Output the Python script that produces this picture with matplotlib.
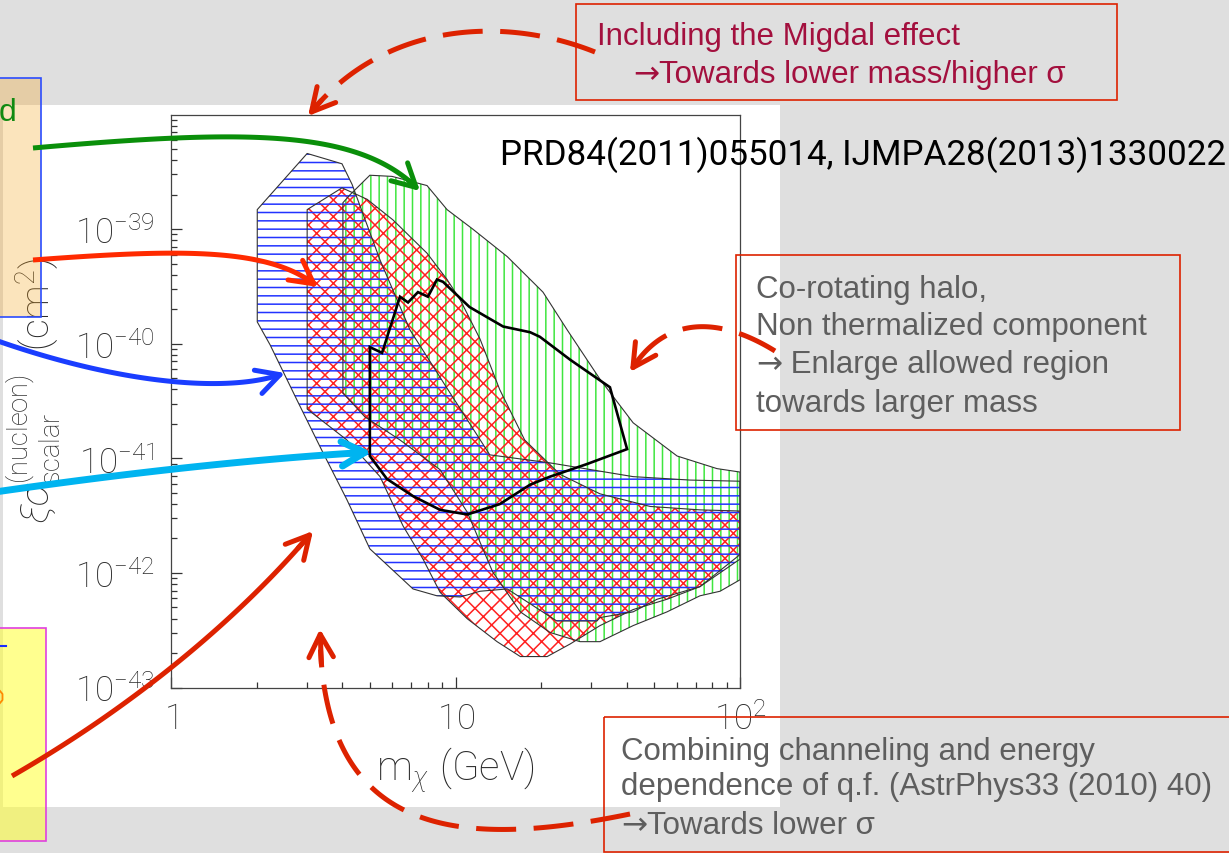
import numpy as np
import matplotlib

matplotlib.use("Agg")
import matplotlib.pyplot as plt
from matplotlib.patches import FancyArrowPatch, Polygon, Rectangle
from matplotlib.ticker import NullFormatter

# Allowed regions in the (m_chi, xi*sigma) plane: mass in GeV, log10(xi*sigma / cm^2)
green_mass = [4.02, 4.26, 5.00, 5.98, 7.94, 9.34, 11.5, 15.2, 20.3, 24.7, 32.2, 42.1,
              60.1, 83.0, 100, 100, 85.1, 72.3, 55.4, 42.1, 32.2, 27.4, 21.5, 16.9,
              13.5, 11.0, 8.83, 6.38, 4.81, 4.02]
green_logsig = [-38.77, -38.70, -38.53, -38.54, -38.62, -38.83, -39.00, -39.24, -39.55,
                -39.88, -40.31, -40.69, -40.98, -41.09, -41.12, -42.06, -42.16, -42.20,
                -42.34, -42.46, -42.60, -42.60, -42.52, -42.34, -41.99, -41.47, -41.10,
                -40.84, -40.64, -40.43]

red_mass = [3.01, 3.34, 3.99, 4.51, 4.89, 6.03, 7.94, 9.34, 10.4, 12.2, 14.3, 17.5,
            23.3, 32.2, 48.3, 72.3, 100, 100, 72.3, 55.4, 42.1, 32.2, 25.3, 21.0,
            16.9, 14.0, 11.0, 8.83, 7.69, 6.54, 5.43, 4.15, 3.01]
red_logsig = [-38.83, -38.76, -38.64, -38.70, -38.74, -38.92, -39.21, -39.44, -39.62,
              -39.96, -40.40, -40.84, -41.14, -41.31, -41.42, -41.45, -41.46, -41.84,
              -42.12, -42.23, -42.32, -42.46, -42.62, -42.73, -42.73, -42.60, -42.40,
              -42.17, -41.88, -41.59, -41.16, -40.84, -40.57]

blue_mass = [2.01, 3.01, 3.99, 4.33, 5.43, 6.92, 9.18, 13.2, 21.5, 42.1, 66.7, 100,
             100, 72.3, 51.1, 42.1, 32.2, 31.4, 22.7, 17.8, 15.2, 12.2, 10.4, 8.61,
             7.09, 5.00, 4.15, 3.42, 2.77, 2.23, 2.01]
blue_logsig = [-38.83, -38.34, -38.43, -38.61, -39.27, -39.88, -40.36, -40.97, -41.04,
               -41.16, -41.19, -41.20, -41.88, -42.12, -42.23, -42.34, -42.39, -42.42,
               -42.42, -42.25, -42.14, -42.16, -42.21, -42.20, -42.14, -41.79, -41.36,
               -40.95, -40.49, -40.01, -39.81]

# region including the channeling effect (solid black contour)
chan_mass = [5.00, 5.00, 5.52, 6.38, 6.81, 7.38, 8.00, 8.61, 9.04, 11.2, 14.7, 18.3,
             19.8, 25.3, 34.9, 40.1, 29.0, 21.5, 18.3, 14.3, 11.0, 8.83, 7.09, 5.74]
chan_logsig = [-40.98, -40.03, -40.08, -39.59, -39.64, -39.55, -39.59, -39.44, -39.46,
               -39.68, -39.85, -39.90, -39.94, -40.14, -40.38, -40.92, -41.05, -41.16,
               -41.23, -41.40, -41.49, -41.45, -41.33, -41.18]

x_ticks = [1, 10, 100]
x_ticklabels = [r"$1$", r"$10$", r"$10^{2}$"]
y_ticks = [1e-43, 1e-42, 1e-41, 1e-40, 1e-39]
y_ticklabels = [r"$10^{-43}$", r"$10^{-42}$", r"$10^{-41}$", r"$10^{-40}$", r"$10^{-39}$"]

plt.rcParams.update({
    "mathtext.fontset": "custom",
    "mathtext.rm": "Roboto:light",
    "mathtext.it": "Roboto:light:italic",
    "mathtext.bf": "Roboto:bold",
    "hatch.linewidth": 1.1,
})

W, H = 1229, 854
fig = plt.figure(figsize=(W / 100, H / 100), dpi=100, facecolor="#dfdfdf")

# white slide panel behind the plot
bg = fig.add_axes([0, 0, 1, 1], zorder=0)
bg.set_xlim(0, W)
bg.set_ylim(H, 0)
bg.axis("off")
bg.add_patch(Rectangle((3, 106), 777, 702, facecolor="white", edgecolor="none"))

ax = fig.add_axes([171 / W, 1 - 688.5 / H, 569 / W, 573 / H], zorder=1)
ax.set_facecolor("none")
ax.set_xscale("log")
ax.set_yscale("log")
ax.set_xlim(1, 100)
ax.set_ylim(1e-43, 1e-38)

regions = [
    (green_mass, green_logsig, "#3fe63f", "||"),
    (red_mass, red_logsig, "#ff2020", "xx"),
    (blue_mass, blue_logsig, "#2233ff", "--"),
]
for mass, logsig, color, hatch in regions:
    xy = np.column_stack([mass, np.power(10.0, logsig)])
    ax.add_patch(Polygon(xy, closed=True, fill=False, hatch=hatch,
                         edgecolor=color, lw=0))
for mass, logsig, _, _ in regions:
    xy = np.column_stack([mass, np.power(10.0, logsig)])
    ax.add_patch(Polygon(xy, closed=True, fill=False, edgecolor="#333333", lw=0.8))
ax.add_patch(Polygon(np.column_stack([chan_mass, np.power(10.0, chan_logsig)]),
                     closed=True, fill=False, edgecolor="black", lw=1.9))

ax.set_xticks(x_ticks, x_ticklabels)
ax.set_yticks(y_ticks, y_ticklabels)
ax.xaxis.set_minor_formatter(NullFormatter())
ax.yaxis.set_minor_formatter(NullFormatter())
ax.tick_params(which="both", direction="in", color="#333333", width=0.9,
               labelsize=25, labelcolor="#2a2a2a")
ax.tick_params(which="major", length=8, pad=12)
ax.tick_params(axis="x", which="major", pad=10)
ax.tick_params(which="minor", length=4)
for side in ax.spines.values():
    side.set_color("#444444")
    side.set_linewidth(0.9)

ax.set_xlabel(r"$\mathrm{m}_{\chi}\ \mathrm{(GeV)}$", fontsize=29, color="#2a2a2a")
ax.xaxis.set_label_coords(0.5, -0.1)
ax.set_ylabel(r"$\xi\sigma^{(\mathrm{nucleon})}_{\mathrm{scalar}}\ \ (\mathrm{cm}^{2})$",
              fontsize=28, color="#2a2a2a")
ax.yaxis.set_label_coords(-0.19, 0.52)

# annotation layer, in pixel coordinates
ov = fig.add_axes([0, 0, 1, 1], zorder=3)
ov.set_xlim(0, W)
ov.set_ylim(H, 0)
ov.axis("off")


def bezier(p0, p1, p2, p3, n=120):
    t = np.linspace(0, 1, n)[:, None]
    p0, p1, p2, p3 = (np.asarray(p, dtype=float) for p in (p0, p1, p2, p3))
    return ((1 - t) ** 3) * p0 + 3 * ((1 - t) ** 2) * t * p1 \
        + 3 * (1 - t) * t ** 2 * p2 + t ** 3 * p3


def curved_arrow(ctrl, color, lw, dashed=False):
    c = bezier(*ctrl)
    ls = (0, (8, 3.5)) if dashed else "-"
    ov.plot(c[:-4, 0], c[:-4, 1], color=color, lw=lw, ls=ls,
            solid_capstyle="butt", dash_capstyle="butt")
    ov.add_patch(FancyArrowPatch(tuple(c[-8]), tuple(c[-1]),
                                 arrowstyle="->,head_length=0.75,head_width=0.4",
                                 mutation_scale=22, color=color, lw=lw,
                                 shrinkA=0, shrinkB=0))


curved_arrow([(33, 149), (250, 130), (360, 130), (420, 192)], "#0a8f0a", 3.6)
curved_arrow([(33, 261), (180, 250), (270, 248), (318, 288)], "#ff2a00", 3.6)
curved_arrow([(-5, 341), (120, 385), (230, 395), (285, 374)], "#1a3dff", 3.6)
curved_arrow([(-5, 493), (120, 475), (250, 460), (372, 453)], "#00b4f0", 5.0)
curved_arrow([(12, 777), (120, 715), (230, 630), (313, 532)], "#dd2200", 3.6)
curved_arrow([(595, 53), (500, 15), (380, 25), (308, 117)], "#dd2200", 3.6, dashed=True)
curved_arrow([(775, 352), (720, 318), (665, 315), (630, 373)], "#dd2200", 3.6, dashed=True)
curved_arrow([(630, 815), (460, 850), (320, 840), (320, 630)], "#dd2200", 3.6, dashed=True)

box_font = ["Liberation Sans", "DejaVu Sans"]
BOX_SIZE = 22.5


def box_line(x, y, text, color, arrow=None):
    """One line of a note box; an optional leading arrow is set in DejaVu Sans."""
    if arrow is None:
        ov.text(x, y, text, fontsize=BOX_SIZE, family=box_font, color=color)
        return
    a = ov.text(x, y, "\u2192", fontsize=BOX_SIZE, family="DejaVu Sans", color=color)
    ov.annotate(arrow + text, xy=(1, y), xycoords=(a, "data"), va="baseline",
                fontsize=BOX_SIZE, family=box_font, color=color)


# left-hand legend boxes, cut by the slide edge
ov.add_patch(Rectangle((-10, 79), 51, 239, facecolor=(0.96, 0.65, 0.14, 0.3),
                       edgecolor="#2a4cff", lw=1.2))
ov.text(16, 121, "d", color="#118a11", fontsize=23, family=box_font, ha="right")
ov.add_patch(Rectangle((-10, 629), 56, 213, facecolor=(1.0, 1.0, 0.2, 0.55),
                       edgecolor="#e040e0", lw=1.2))
ov.plot([0, 6], [647, 647], color="#1a2cff", lw=1.5)
ov.plot([0, 2.5, 2.5, 0], [692, 695, 701, 704], color="#ff8a00", lw=1.3)

ov.text(500, 165, "PRD84(2011)055014, IJMPA28(2013)1330022", fontsize=25.2,
        family="Roboto", color="black")

migdal = "#a3103e"
ov.add_patch(Rectangle((576, 5), 541, 96, fill=False, edgecolor="#dd2200", lw=1.2))
box_line(597, 45, "Including the Migdal effect", migdal)
box_line(633, 83, "Towards lower mass/higher \u03c3", migdal, arrow="")

note = "#5e5e5e"
ov.add_patch(Rectangle((736, 256), 444, 175, fill=False, edgecolor="#dd2200", lw=1.2))
box_line(756, 298, "Co-rotating halo,", note)
box_line(756, 335, "Non thermalized component", note)
box_line(756, 373, "Enlarge allowed region", note, arrow=" ")
box_line(756, 412, "towards larger mass", note)

ov.add_patch(Rectangle((604, 718), 640, 135, fill=False, edgecolor="#dd2200", lw=1.2))
box_line(621, 760, "Combining channeling and energy", note)
box_line(621, 795, "dependence of q.f. (AstrPhys33 (2010) 40)", note)
box_line(621, 834, "Towards lower \u03c3", note, arrow="")

fig.savefig("out.png", dpi=100, facecolor=fig.get_facecolor())
